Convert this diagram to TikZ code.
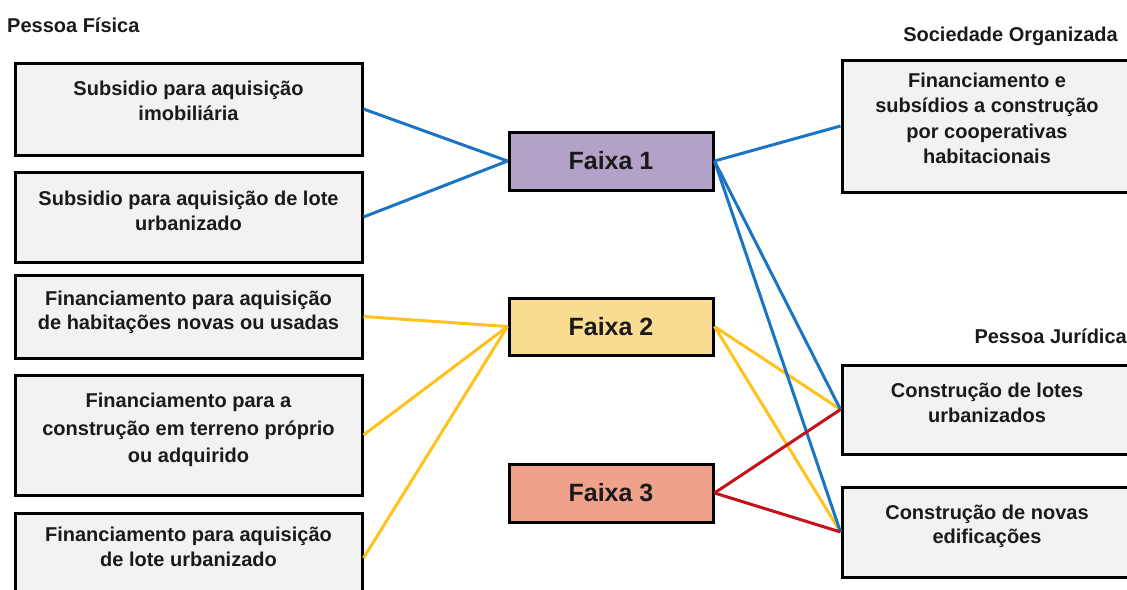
\documentclass[tikz,border=0pt]{standalone}
\usepackage{fontspec}
\setmainfont{Liberation Sans}
\begin{document}
\definecolor{boxgray}{HTML}{F2F2F2}
\definecolor{faixaA}{HTML}{B3A2C7}
\definecolor{faixaB}{HTML}{F9DC92}
\definecolor{faixaC}{HTML}{F0A18C}
\definecolor{lnblue}{HTML}{1C74C4}
\definecolor{lnyellow}{HTML}{FFC21A}
\definecolor{lnred}{HTML}{C4121A}
\definecolor{ink}{HTML}{1A1A1A}
\begin{tikzpicture}[x=1pt,y=-1pt,
  txt/.style={font=\fontsize{20}{24.5}\selectfont\bfseries, text=ink},
  itemtext/.style={txt, align=center, inner sep=0pt},
  itembox/.style={draw=black, line width=3pt, fill=boxgray, inner sep=0pt},
  leftbox/.style={itembox, minimum width=347pt},
  rightbox/.style={itembox, minimum width=290pt},
  faixabox/.style={draw=black, line width=3pt, inner sep=0pt, minimum width=204pt,
    font=\fontsize{25}{30}\selectfont\bfseries, text=ink},
  grouplabel/.style={txt, inner sep=0pt},
  conn/.style={line width=3pt}
]
\useasboundingbox (0,0) rectangle (1127,589);
\clip (0,0) rectangle (1127,589);

% group labels
\node[grouplabel, anchor=west] (lpf) at (7,25) {Pessoa Física};
\node[grouplabel, anchor=east] (lso) at (1118,36) {Sociedade Organizada};
\node[grouplabel, anchor=east] (lpj) at (1127,336) {Pessoa Jurídica};

% pessoa fisica programmes
\node[leftbox, minimum height=92pt] (l1) at (188.5,109) {};
\node[leftbox, minimum height=90pt] (l2) at (188.5,217) {};
\node[leftbox, minimum height=83pt] (l3) at (188.5,316.5) {};
\node[leftbox, minimum height=120pt] (l4) at (188.5,435) {};
\node[leftbox, minimum height=90pt] (l5) at (188.5,558) {};
\node[itemtext] (l1t) at (188.5,101) {Subsidio para aquisição\\imobiliária};
\node[itemtext] (l2t) at (188.5,211) {Subsidio para aquisição de lote\\urbanizado};
\node[itemtext] (l3t) at (188.5,312.5) {Financiamento para aquisição\\de habitações novas ou usadas};
\node[itemtext, font=\fontsize{20}{27.5}\selectfont\bfseries] (l4t) at (188.5,430) {Financiamento para a\\construção em terreno próprio\\ou adquirido};
\node[itemtext] (l5t) at (188.5,547) {Financiamento para aquisição\\de lote urbanizado};

% faixas
\node[faixabox, fill=faixaA, minimum height=58pt] (f1) at (611,161) {Faixa 1};
\node[faixabox, fill=faixaB, minimum height=57pt] (f2) at (611,326.5) {Faixa 2};
\node[faixabox, fill=faixaC, minimum height=58pt] (f3) at (611,493) {Faixa 3};

% sociedade organizada / pessoa juridica
\node[rightbox, minimum height=132pt] (s1) at (987,126) {};
\node[rightbox, minimum height=89pt] (p1) at (987,409.5) {};
\node[rightbox, minimum height=90pt] (p2) at (987,532) {};
\node[itemtext, font=\fontsize{20}{25.5}\selectfont\bfseries] (s1t) at (987,118.5) {Financiamento e\\subsídios a construção\\por cooperativas\\habitacionais};
\node[itemtext] (p1t) at (987,403) {Construção de lotes\\urbanizados};
\node[itemtext] (p2t) at (987,526.5) {Construção de novas\\edificações};

% connectors
\draw[conn, lnyellow] (l3.east) -- (f2.west);
\draw[conn, lnyellow] (l4.east) -- (f2.west);
\draw[conn, lnyellow] (l5.east) -- (f2.west);
\draw[conn, lnyellow] (f2.east) -- (p1.west);
\draw[conn, lnyellow] (f2.east) -- (p2.west);
\draw[conn, lnblue] (l1.east) -- (f1.west);
\draw[conn, lnblue] (l2.east) -- (f1.west);
\draw[conn, lnblue] (f1.east) -- (s1.west);
\draw[conn, lnblue] (f1.east) -- (p1.west);
\draw[conn, lnblue] (f1.east) -- (p2.west);
\draw[conn, lnred] (f3.east) -- (p1.west);
\draw[conn, lnred] (f3.east) -- (p2.west);
\end{tikzpicture}
\end{document}
